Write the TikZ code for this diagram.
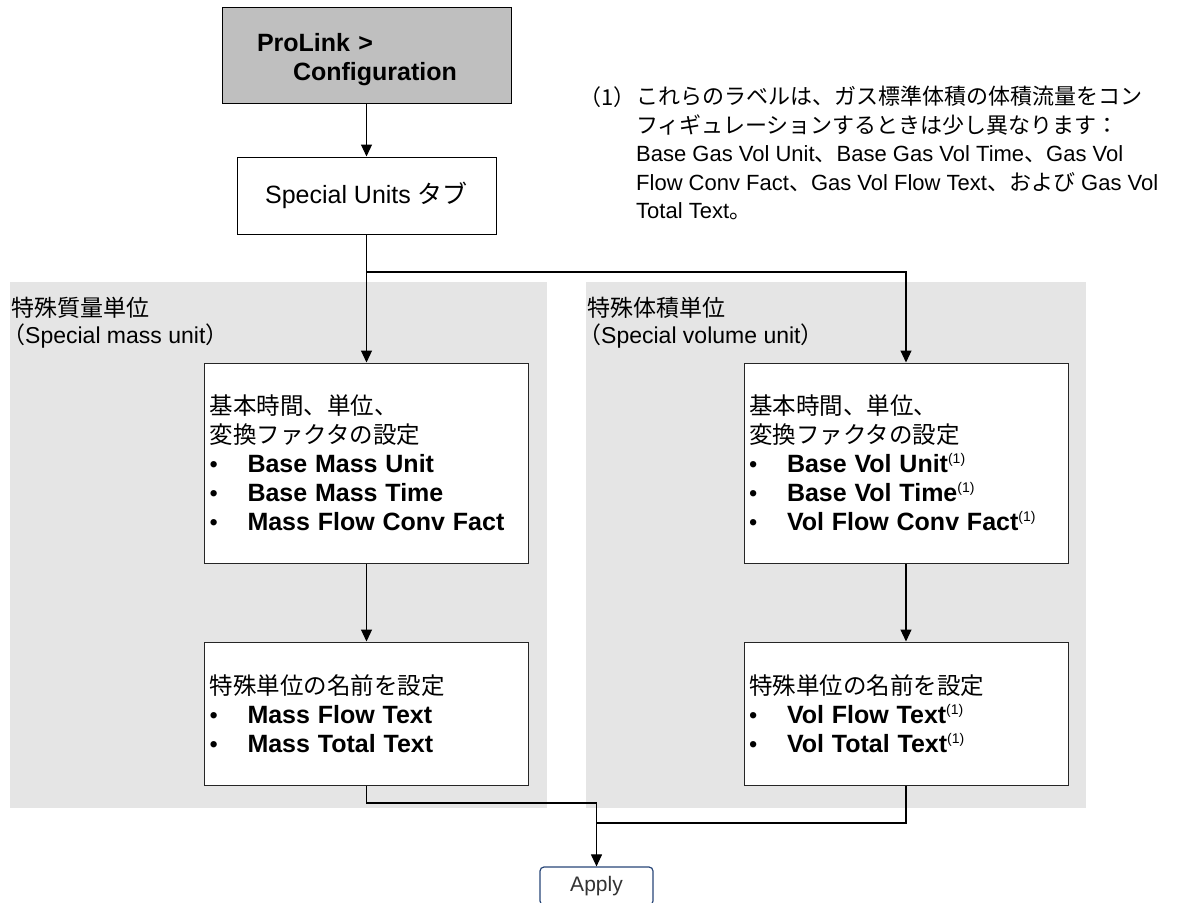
\documentclass[tikz,border=0pt]{standalone}
\usepackage{fontspec}
\setmainfont{Liberation Sans}
\newfontfamily\jfont{Noto Sans CJK JP}
\usetikzlibrary{arrows.meta,positioning}

\definecolor{applyblue}{RGB}{40,70,120}
\newcommand{\ja}[1]{{\jfont #1}}
\newcommand{\fnmk}{\raisebox{9pt}{\fontsize{14}{14}\selectfont(1)}}
\newcommand{\bitem}[1]{\makebox[38pt][l]{\textbullet}{\fontsize{25}{29}\selectfont\bfseries #1}}

\begin{document}
\begin{tikzpicture}[
  x=1pt, y=-1pt,
  >={Triangle[length=12pt,width=11pt]},
  line/.style={line width=1.1pt},
  menu/.style={draw, line width=1pt, fill=black!25, align=left, text width=219pt,
               inner xsep=35pt, minimum height=96pt,
               font=\fontsize{25}{29}\selectfont\bfseries},
  tab/.style={draw, line width=1pt, fill=white, minimum width=259pt, minimum height=77pt,
              font=\fontsize{25}{29}\selectfont},
  panel/.style={fill=black!10, anchor=north west, inner sep=0pt},
  paneltitle/.style={anchor=north west, align=left, inner sep=0pt,
                     font=\fontsize{23}{27}\selectfont},
  setbox/.style={draw=black!85, line width=1pt, fill=white, align=left,
                 text width=314pt, inner xsep=5pt, inner ysep=0pt,
                 font=\fontsize{23.5}{29}\selectfont},
  applybtn/.style={draw=applyblue, line width=1.2pt, rounded corners=4pt, fill=white,
                   minimum width=113pt, minimum height=38pt, text=black!80,
                   font=\fontsize{21}{21}\selectfont},
  note/.style={align=left, inner sep=0pt, font=\fontsize{22}{28.5}\selectfont}
]
\clip (0,0) rectangle (1177,902);

% grey areas behind the two branches
\node[panel, minimum width=537pt, minimum height=526pt] (mpanel) at (10,282) {};
\node[panel, minimum width=500pt, minimum height=526pt] (vpanel) at (586,282) {};
\node[paneltitle] (mtitle) at (11,297)
  {\ja{特殊質量単位}\\\hspace*{-9pt}\ja{（}Special mass unit\ja{）}};
\node[paneltitle] (vtitle) at (587,297)
  {\ja{特殊体積単位}\\\hspace*{-9pt}\ja{（}Special volume unit\ja{）}};

% top of the flow
\node[menu] (prolink) at (366.5,55)
  {\rule{0pt}{28pt}ProLink >\\\hspace*{36pt}Configuration};
\node[tab, below=53pt of prolink] (units) {Special Units \ja{タブ}};
\draw[line,->] (prolink) -- (units);

% footnote
\node[note, anchor=north west] (fntext) at (636,86) {%
  \ja{これらのラベルは、ガス標準体積の体積流量をコン}\\
  \ja{フィギュレーションするときは少し異なります：}\\
  Base Gas Vol Unit\ja{、}Base Gas Vol Time\ja{、}Gas Vol\\
  Flow Conv Fact\ja{、}Gas Vol Flow Text\ja{、および}~Gas Vol\\
  Total Text\ja{。}};
\node[note, anchor=north east] (fnmark) at (fntext.north west) {\ja{（1）}};

% mass branch
\node[setbox, minimum height=200pt] (mbase) at (366.5,463) {%
  \ja{基本時間、単位、}\\
  \ja{変換ファクタの設定}\\
  \bitem{Base Mass Unit}\\
  \bitem{Base Mass Time}\\
  \bitem{Mass Flow Conv Fact}};
\node[setbox, minimum height=143pt, below=78pt of mbase] (mname) {%
  \ja{特殊単位の名前を設定}\\
  \bitem{Mass Flow Text}\\
  \bitem{Mass Total Text}};

% volume branch
\node[setbox, minimum height=200pt] (vbase) at (906,463) {%
  \ja{基本時間、単位、}\\
  \ja{変換ファクタの設定}\\
  \bitem{Base Vol Unit}\fnmk\\
  \bitem{Base Vol Time}\fnmk\\
  \bitem{Vol Flow Conv Fact}\fnmk};
\node[setbox, minimum height=143pt, below=78pt of vbase] (vname) {%
  \ja{特殊単位の名前を設定}\\
  \bitem{Vol Flow Text}\fnmk\\
  \bitem{Vol Total Text}\fnmk};

\node[applybtn] (apply) at (596.5,886) {Apply};

% connectors
\coordinate (split) at (366.5,272);
\draw[line] (units) -- (split);
\draw[line,->] (split) -- (mbase);
\draw[line,->] (split) -| (vbase);
\draw[line,->] (mbase) -- (mname);
\draw[line,->] (vbase) -- (vname);

\coordinate (mjoin) at (596.5,803);
\coordinate (vjoin) at (596.5,823);
\draw[line,->] (mname.south) |- (mjoin) -- (apply.north);
\draw[line] (vname.south) |- (vjoin);

\end{tikzpicture}
\end{document}
